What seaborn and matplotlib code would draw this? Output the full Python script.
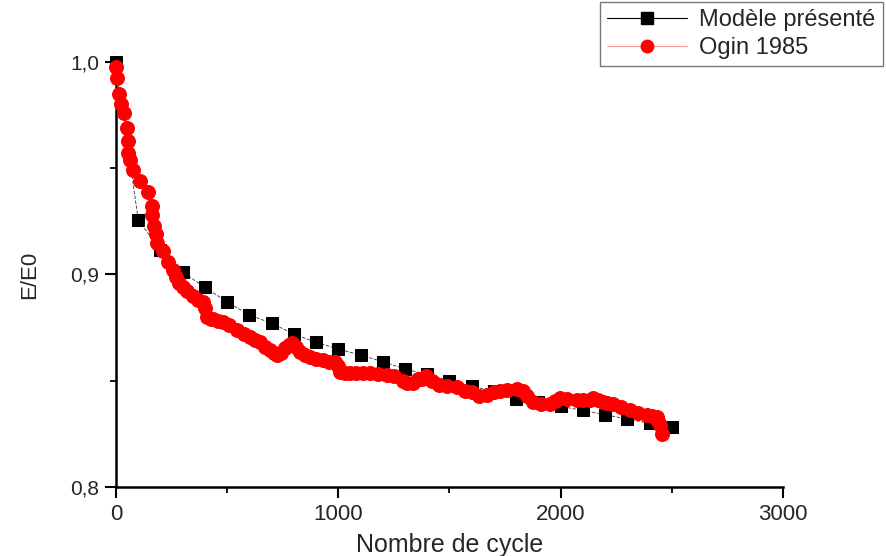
import matplotlib
matplotlib.use("Agg")
import matplotlib.pyplot as plt
import seaborn as sns
import pandas as pd
from matplotlib.ticker import MultipleLocator
from matplotlib.lines import Line2D

# ---- data ----
model_cycles = [0, 100, 200, 300, 400, 500, 600, 700, 800, 900, 1000, 1100, 1200,
                1300, 1400, 1500, 1600, 1700, 1800, 1900, 2000, 2100, 2200, 2300,
                2400, 2500]
model_ratio = [1.000, 0.9256, 0.9115, 0.901, 0.894, 0.887, 0.881, 0.877, 0.872,
               0.868, 0.865, 0.862, 0.859, 0.8555, 0.853, 0.850, 0.8475, 0.845,
               0.8415, 0.840, 0.838, 0.836, 0.834, 0.832, 0.830, 0.828]

ogin_cycles = [0, 5, 14, 23, 36, 50, 52, 55, 63, 77, 108, 144, 160, 163, 171, 180,
               186, 212, 235, 256, 270, 285, 301, 320, 346, 370, 391, 400, 409, 425,
               436, 460, 481, 510, 544, 575, 602, 625, 647, 670, 692, 710, 724, 740,
               760, 780, 791, 810, 827, 850, 872, 900, 930, 960, 984, 1000, 1006,
               1030, 1051, 1080, 1110, 1141, 1180, 1217, 1250, 1289, 1310, 1334,
               1360, 1378, 1396, 1420, 1455, 1490, 1532, 1570, 1600, 1635, 1670,
               1700, 1725, 1760, 1802, 1830, 1850, 1874, 1910, 1950, 1975, 1995,
               2030, 2072, 2100, 2130, 2144, 2170, 2189, 2210, 2234, 2270, 2311,
               2350, 2387, 2410, 2432, 2440, 2446, 2455]
ogin_ratio = [0.9976, 0.9925, 0.985, 0.980, 0.976, 0.969, 0.963, 0.957, 0.954,
              0.949, 0.944, 0.939, 0.932, 0.928, 0.923, 0.919, 0.915, 0.911, 0.906,
              0.902, 0.899, 0.896, 0.894, 0.892, 0.890, 0.888, 0.887, 0.884, 0.880,
              0.879, 0.879, 0.878, 0.8775, 0.876, 0.874, 0.872, 0.8706, 0.869,
              0.868, 0.866, 0.8645, 0.863, 0.862, 0.863, 0.8654, 0.867, 0.8678,
              0.866, 0.8635, 0.862, 0.861, 0.860, 0.8598, 0.859, 0.8588, 0.857,
              0.854, 0.8538, 0.8536, 0.8536, 0.8536, 0.8536, 0.853, 0.8527, 0.852,
              0.850, 0.849, 0.849, 0.851, 0.851, 0.852, 0.850, 0.848, 0.8475,
              0.847, 0.845, 0.8445, 0.843, 0.8435, 0.8445, 0.845, 0.8455, 0.846,
              0.845, 0.843, 0.840, 0.839, 0.839, 0.8405, 0.842, 0.8415, 0.841,
              0.841, 0.841, 0.842, 0.841, 0.840, 0.8395, 0.839, 0.8375, 0.836,
              0.835, 0.834, 0.8335, 0.833, 0.831, 0.829, 0.825]

x_ticks = [0, 1000, 2000, 3000]
x_tick_labels = ["0", "1000", "2000", "3000"]
y_ticks = [0.8, 0.9, 1.0]
y_tick_labels = ["0,8", "0,9", "1,0"]
label_model = "Modèle présenté"
label_ogin = "Ogin 1985"

# ---- style ----
sns.set_style("white")
plt.rcParams['font.family'] = ['Liberation Sans', 'DejaVu Sans']

fig = plt.figure(figsize=(8.87, 5.56), dpi=100)
ax = fig.add_axes([0.1308, 0.1241, 0.7519, 0.7644])

df_model = pd.DataFrame({"x": model_cycles, "y": model_ratio})
df_ogin = pd.DataFrame({"x": ogin_cycles, "y": ogin_ratio})

sns.lineplot(data=df_model, x="x", y="y", ax=ax, sort=False, estimator=None,
             color="#333333", linewidth=0.6, linestyle=(0, (4, 2)),
             marker="s", markersize=8.5, markerfacecolor="black",
             markeredgecolor="black", zorder=2, clip_on=False)
sns.lineplot(data=df_ogin, x="x", y="y", ax=ax, sort=False, estimator=None,
             color="#ff0000", linewidth=0.6,
             marker="o", markersize=10, markerfacecolor="#ff0000",
             markeredgecolor="#ff0000", zorder=3, clip_on=False)

ax.set_xlim(0, 3000)
ax.set_ylim(0.8, 1.0)
ax.set_xticks(x_ticks)
ax.set_xticklabels(x_tick_labels, fontsize=16)
ax.set_yticks(y_ticks)
ax.set_yticklabels(y_tick_labels, fontsize=15)
ax.xaxis.set_minor_locator(MultipleLocator(500))
ax.yaxis.set_minor_locator(MultipleLocator(0.05))
ax.tick_params(axis="both", which="major", direction="out", length=8, width=1.5,
               color="black", pad=4)
ax.tick_params(axis="both", which="minor", direction="out", length=4, width=1.3,
               color="black")
ax.tick_params(axis="x", which="both", bottom=True)
ax.tick_params(axis="y", which="both", left=True)

for s in ["top", "right"]:
    ax.spines[s].set_visible(False)
for s in ["left", "bottom"]:
    ax.spines[s].set_color("black")
    ax.spines[s].set_linewidth(1.8)

ax.set_xlabel("Nombre de cycle", fontsize=18, labelpad=6)
ax.set_ylabel("E/E0", fontsize=16, labelpad=22)

handles = [
    Line2D([], [], color="black", linewidth=0.8, marker="s", markersize=8,
           markerfacecolor="black", markeredgecolor="black"),
    Line2D([], [], color="#ff9999", linewidth=0.8, marker="o", markersize=9,
           markerfacecolor="#ff0000", markeredgecolor="#ff0000"),
]
leg = fig.legend(handles, [label_model, label_ogin], loc="upper right",
                 bbox_to_anchor=(0.995, 0.996), fontsize=17, frameon=True,
                 fancybox=False, edgecolor="#555555", handlelength=3.4,
                 handletextpad=0.5, borderpad=0.3, labelspacing=0.25,
                 borderaxespad=0)
leg.get_frame().set_linewidth(1.0)

fig.savefig("out.png", dpi=100)
